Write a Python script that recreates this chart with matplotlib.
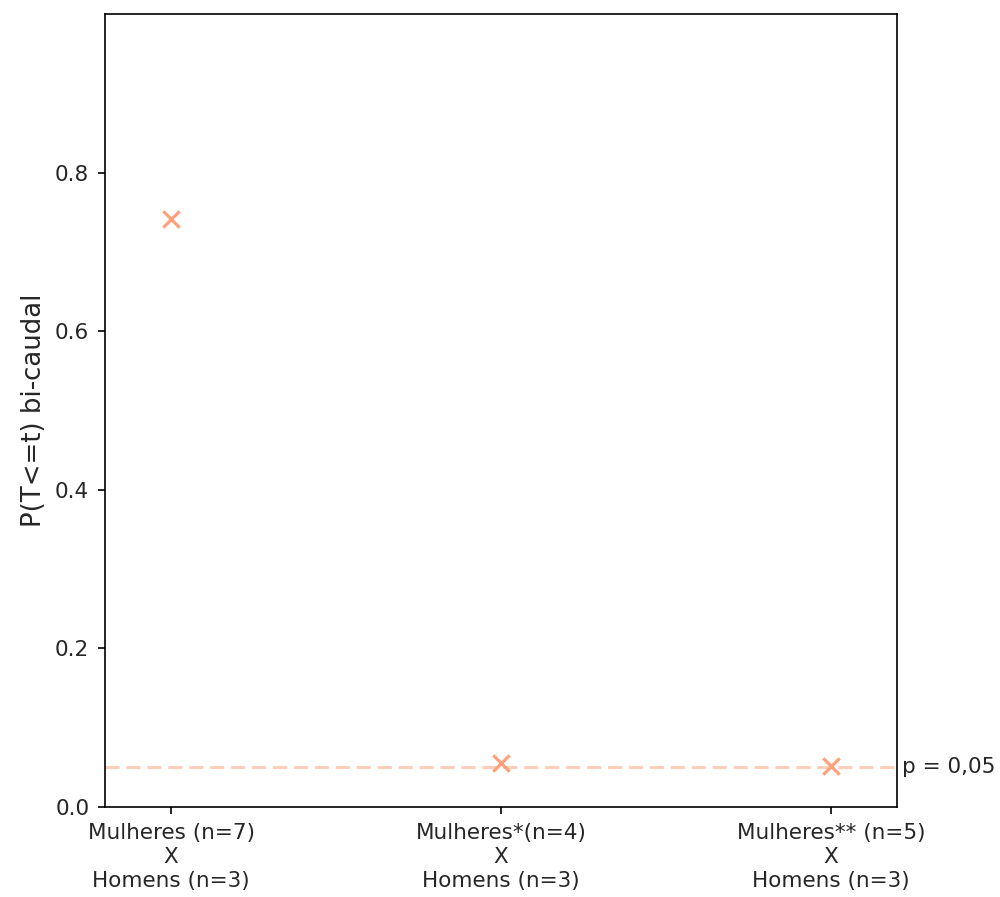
import matplotlib

matplotlib.use("Agg")
import matplotlib.pyplot as plt

categories = [
    "Mulheres (n=7)\nX\nHomens (n=3)",
    "Mulheres*(n=4)\nX\nHomens (n=3)",
    "Mulheres** (n=5)\nX\nHomens (n=3)",
]
p_values = [0.741, 0.055, 0.052]
threshold = 0.05
yticks = [0.0, 0.2, 0.4, 0.6, 0.8]

fig = plt.figure(figsize=(1000 / 150, 897 / 150), dpi=150)
ax = fig.add_axes([0.105, 0.1003, 0.792, 0.884])

x = list(range(len(categories)))
ax.scatter(x, p_values, marker="x", color="#FFA07A", s=62, linewidths=1.5, zorder=3)
ax.axhline(threshold, color="#FFA07A", alpha=0.5, linewidth=1.5, dashes=(4.5, 2.2))
ax.text(2.215, threshold, "p = 0,05", va="center", ha="left", fontsize=10.3, color="#262626")

ax.set_xlim(-0.2, 2.2)
ax.set_ylim(0, 1)
ax.set_yticks(yticks)
ax.set_xticks(x)
ax.set_xticklabels(categories, fontsize=10.3, linespacing=1.25)
ax.tick_params(axis="both", labelsize=10.3, labelcolor="#262626", pad=4)
ax.set_ylabel("P(T<=t) bi-caudal", fontsize=12.5, color="#262626")

fig.savefig("out.png", dpi=150)
